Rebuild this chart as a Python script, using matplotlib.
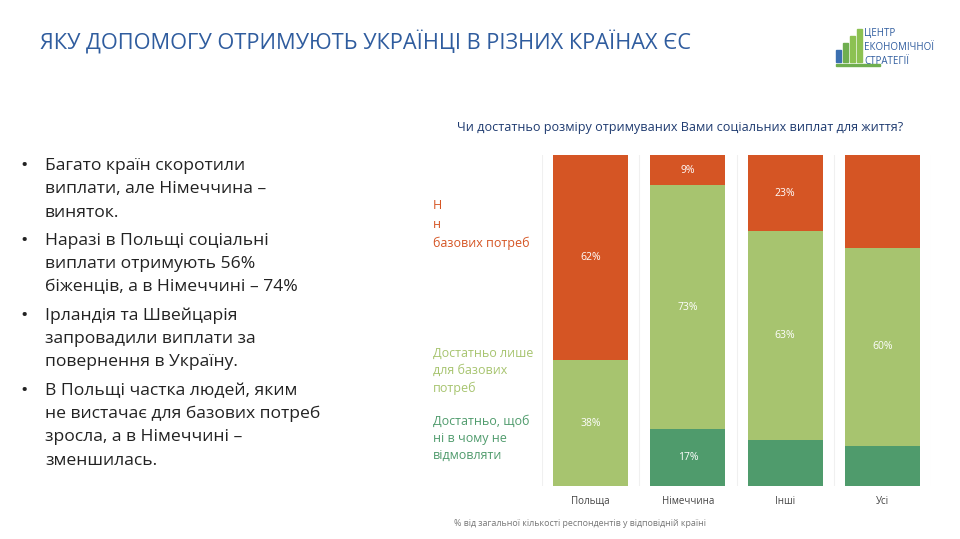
import numpy as np
import matplotlib.pyplot as plt
from matplotlib.patches import Rectangle

# data
countries = ['Польща', 'Німеччина', 'Інші', 'Усі']
not_enough = [62, 9, 23, 28]
basic_only = [38, 73, 63, 60]
enough = [0, 17, 14, 12]
# which values get a printed label
show_red = [True, True, True, False]
show_light = [True, True, True, True]
show_dark = [False, True, False, False]

bullets = [
    ['Багато країн скоротили', 'виплати, але Німеччина –', 'виняток.'],
    ['Наразі в Польщі соціальні', 'виплати отримують 56%', 'біженців, а в Німеччині – 74%'],
    ['Ірландія та Швейцарія', 'запровадили виплати за', 'повернення в Україну.'],
    ['В Польщі частка людей, яким', 'не вистачає для базових потреб', 'зросла, а в Німеччині –', 'зменшилась.'],
]

RED = '#D55524'
LIGHT = '#A7C46F'
DARK = '#4F9B6C'
BLUE = '#2F5C9E'

plt.rcParams['font.family'] = ['Open Sans', 'DejaVu Sans']

fig = plt.figure(figsize=(9.6, 5.39), dpi=100)
W, H = 960, 539

def fx(x):
    return x / W

def fy(y):
    return 1 - y / H

fig.text(fx(40), fy(42), 'ЯКУ ДОПОМОГУ ОТРИМУЮТЬ УКРАЇНЦІ В РІЗНИХ КРАЇНАХ ЄС',
         color=BLUE, fontsize=15.7, va='center', ha='left')

# logo
for i, (h, c) in enumerate([(12, '#3B6FB0'), (19, '#6FAE4F'), (26, '#8CC152'), (33, '#8CC152')]):
    fig.patches.append(Rectangle((fx(836 + i * 7), fy(62)), fx(5), h / H,
                                 color=c, transform=fig.transFigure))
fig.patches.append(Rectangle((fx(836), fy(66)), fx(44), 2 / H,
                             color='#6FAE4F', transform=fig.transFigure))
for i, t in enumerate(['ЦЕНТР', 'ЕКОНОМІЧНОЇ', 'СТРАТЕГІЇ']):
    fig.text(fx(864), fy(34 + i * 13.5), t, color=BLUE, fontsize=7, va='center')

# bullets
y = 166
for block in bullets:
    fig.text(fx(20), fy(y), '•', fontsize=14, va='center', color='#222222')
    for line in block:
        fig.text(fx(45), fy(y), line, fontsize=12.6, va='center', color='#222222')
        y += 23.3
    y += 5

# chart (100% stacked, so each bar is scaled to its own total)
totals = np.array(not_enough) + np.array(basic_only) + np.array(enough)
d = np.array(enough) / totals * 100
l = np.array(basic_only) / totals * 100
r = np.array(not_enough) / totals * 100

ax = fig.add_axes([fx(542), fy(486), fx(931 - 542), (486 - 155) / H])
x = np.arange(len(countries))
bw = 0.77
ax.bar(x, d, bw, color=DARK)
ax.bar(x, l, bw, bottom=d, color=LIGHT)
ax.bar(x, r, bw, bottom=d + l, color=RED)

for i in range(len(countries)):
    if show_dark[i]:
        ax.text(i, d[i] / 2, f'{enough[i]}%', color='white', ha='center', va='center', fontsize=7.5)
    if show_light[i]:
        ax.text(i, d[i] + l[i] / 2, f'{basic_only[i]}%', color='white',
                ha='center', va='center', fontsize=7.5)
    if show_red[i]:
        ax.text(i, d[i] + l[i] + r[i] / 2, f'{not_enough[i]}%', color='white',
                ha='center', va='center', fontsize=7.5)

ax.set_xlim(-0.5, 3.5)
ax.set_ylim(0, 100)
for xv in np.arange(-0.5, 4, 1):
    ax.axvline(xv, color='#F0F0F0', lw=0.8, zorder=0)
for s in ax.spines.values():
    s.set_visible(False)
ax.set_yticks([])
ax.set_xticks(x)
ax.set_xticklabels(countries, fontsize=7, color='#444444')
ax.tick_params(axis='x', length=0, pad=7)

fig.text(fx(680), fy(128), 'Чи достатньо розміру отримуваних Вами соціальних виплат для життя?',
         color='#1F3B70', fontsize=9.1, ha='center', va='center')
fig.text(fx(580), fy(523), '% від загальної кількості респондентів у відповідній країні',
         color='#777777', fontsize=6.4, ha='center', va='center')

# legend texts
fig.text(fx(433), fy(199), 'Н\nн\nбазових потреб', color=RED, fontsize=9,
         va='top', linespacing=1.55)
fig.text(fx(433), fy(347), 'Достатньо лише\nдля базових\nпотреб', color=LIGHT, fontsize=9,
         va='top', linespacing=1.4)
fig.text(fx(433), fy(415), 'Достатньо, щоб\nні в чому не\nвідмовляти', color=DARK, fontsize=9,
         va='top', linespacing=1.4)

fig.savefig('out.png', dpi=100)
